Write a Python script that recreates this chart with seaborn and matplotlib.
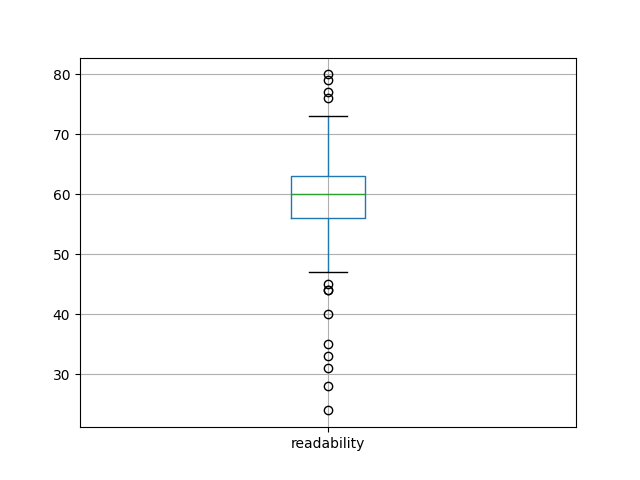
import matplotlib
matplotlib.use("Agg")
import matplotlib.pyplot as plt
import seaborn as sns
import pandas as pd

# readability scores (Q1=56, median=60, Q3=63, whiskers 47/73)
low_outliers = [24, 28, 31, 33, 35, 40, 44, 44, 45]
core = [47, 48, 49, 50, 51, 52, 52, 53, 53, 54, 54, 55, 55, 55, 56, 56,
        56,
        57, 57, 57, 57, 57, 57, 58, 58, 58, 58, 58, 58,
        59, 59, 59, 59, 59, 59, 60, 60, 60, 60, 60, 60,
        60,
        60, 60, 60, 61, 61, 61, 61, 61, 61, 61, 62, 62, 62, 62, 62, 62, 62,
        63, 63, 63, 63, 63, 63, 63,
        63,
        63, 64, 64, 65, 65, 66, 66, 67, 67, 68, 68, 69, 69, 70, 70,
        71, 71, 72, 72, 73, 73]
high_outliers = [76, 77, 79, 80]

df = pd.DataFrame({"readability": low_outliers + core + high_outliers})

fig, ax = plt.subplots(figsize=(6.4, 4.8), dpi=100)
sns.boxplot(data=df, ax=ax, width=0.15, fill=False, color="C0", linewidth=1,
            medianprops={"color": "C2"},
            capprops={"color": "black"},
            flierprops={"marker": "o", "markeredgecolor": "black",
                        "markerfacecolor": "none", "markersize": 6})
ax.set_xlim(-0.5, 0.5)
ax.grid(True)
ax.set_axisbelow(True)
plt.savefig("out.png", dpi=100)
